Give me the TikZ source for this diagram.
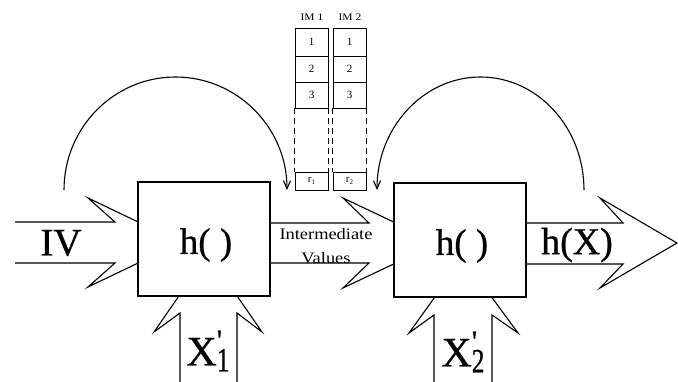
\documentclass[tikz,border=0pt]{standalone}
\usepackage{fontspec}
\setmainfont{Liberation Serif}
\newfontfamily\scanfont{Liberation Serif}[FakeBold=0.6]
\usetikzlibrary{arrows.meta}
\newcommand\hstretch[1]{\scalebox{1.15}[1]{#1}}
\tikzset{
  ln/.style={line width=1.1pt, line join=miter},
  blk/.style={draw, line width=1.1pt, fill=white, minimum width=132pt, minimum height=114pt, inner sep=0pt},
  cellbox/.style={draw, line width=0.9pt, minimum width=33pt, inner sep=0pt, font=\fontsize{11}{11}\selectfont},
  bigtxt/.style={inner sep=0pt, font=\scanfont\fontsize{37}{37}\selectfont},
  smalltxt/.style={inner sep=0pt, font=\fontsize{10}{10}\selectfont},
  curv/.style={line width=1.1pt, -{Straight Barb[length=8pt,width=7pt]}},
}
\begin{document}
\begin{tikzpicture}[x=1pt,y=-1pt]
\useasboundingbox (0,0) rectangle (678,382);
% big arrows
\draw[ln] (15,222) -- (115,222) -- (88,198) -- (181,242.5) -- (88,287) -- (115,263) -- (15,263);
\draw[ln] (270,223) -- (369,223) -- (343,198) -- (438,243) -- (343,288) -- (369,263) -- (270,263);
\draw[ln] (526,223) -- (623,223) -- (600,198) -- (677,243) -- (600,288) -- (623,264) -- (526,264);
\draw[ln] (180,382) -- (180,313) -- (154,332) -- (208,254) -- (262,332) -- (237,313) -- (237,382);
\draw[ln] (434,382) -- (434,315) -- (409,333) -- (463,258) -- (518,333) -- (492,315) -- (492,382);
% boxes
\node[blk] (h1) at (204,239) {};
\node[bigtxt] (h1t) at (206,245) {h( )};
\node[blk] (h2) at (460,240) {};
\node[bigtxt] (h2t) at (462,246) {h( )};
% labels
\node[bigtxt, font=\scanfont\fontsize{39}{39}\selectfont] (iv) at (61,243) {IV};
\node[bigtxt, font=\scanfont\fontsize{38}{38}\selectfont] (hx) at (577,245) {h(X)};
\node[inner sep=0pt, align=center, font=\fontsize{16}{24}\selectfont] (iv2) at (326,246) {\hstretch{Intermediate}\\\hstretch{Values}};
\node[bigtxt, font=\scanfont\fontsize{42}{42}\selectfont] (x1) at (208,351) {X\rlap{\raisebox{0.36em}{\fontsize{30}{30}\selectfont '}}\raisebox{-0.14em}{\fontsize{34}{34}\selectfont\scalebox{0.75}[1]{1}}};
\node[bigtxt, font=\scanfont\fontsize{42}{42}\selectfont] (x2) at (463,352) {X\rlap{\raisebox{0.36em}{\fontsize{30}{30}\selectfont '}}\raisebox{-0.14em}{\fontsize{34}{34}\selectfont\scalebox{0.75}[1]{2}}};
% IM tables
\node[smalltxt] (im1) at (312,17) {\hstretch{IM 1}};
\node[smalltxt] (im2) at (350,17) {\hstretch{IM 2}};
\node[cellbox, minimum height=28pt] (a1) at (311.5,42) {1};
\node[cellbox, minimum height=26pt] (a2) at (311.5,69) {2};
\node[cellbox, minimum height=26pt] (a3) at (311.5,95) {3};
\node[cellbox, minimum height=28pt] (b1) at (349.5,42) {1};
\node[cellbox, minimum height=26pt] (b2) at (349.5,69) {2};
\node[cellbox, minimum height=26pt] (b3) at (349.5,95) {3};
\node[cellbox, minimum height=18pt] (r1) at (311.5,181) {r\raisebox{-0.35ex}{\fontsize{7}{7}\selectfont 1}};
\node[cellbox, minimum height=18pt] (r2) at (349.5,181) {r\raisebox{-0.35ex}{\fontsize{7}{7}\selectfont 2}};
\draw[line width=0.9pt, dashed, dash pattern=on 6pt off 4pt] (a3.south west) -- (r1.north west);
\draw[line width=0.9pt, dashed, dash pattern=on 6pt off 4pt] (a3.south east) -- (r1.north east);
\draw[line width=0.9pt, dashed, dash pattern=on 6pt off 4pt] (b3.south west) -- (r2.north west);
\draw[line width=0.9pt, dashed, dash pattern=on 6pt off 4pt] (b3.south east) -- (r2.north east);
% feedback arcs
\draw[curv] (64,190) arc[start angle=180, end angle=360, x radius=111.5, y radius=113];
\draw[curv] (584,190) arc[start angle=0, end angle=-180, x radius=103.5, y radius=113];
\end{tikzpicture}
\end{document}
